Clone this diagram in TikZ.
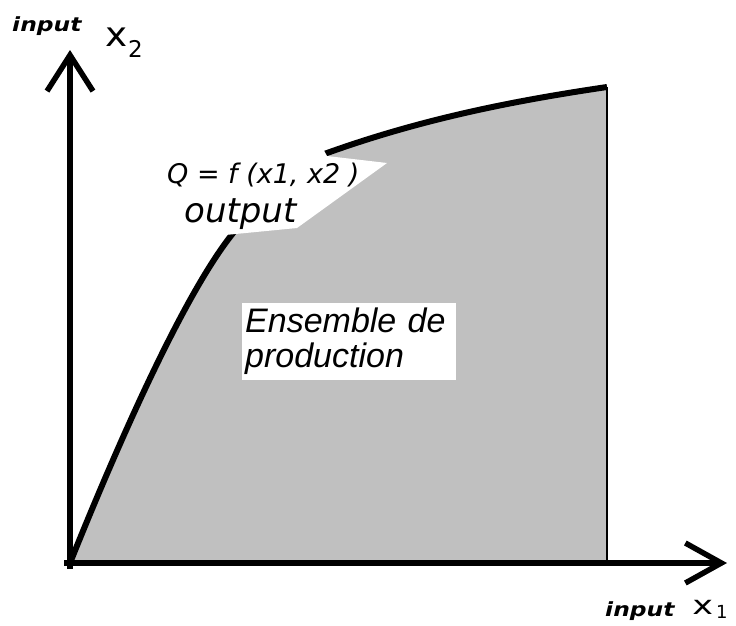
\documentclass[tikz,border=0pt]{standalone}
\usepackage{fontspec}
\setmainfont{Liberation Sans}
\newfontfamily\dejavu{DejaVu Sans}[
    BoldFont={DejaVu Sans Bold},
    ItalicFont={DejaVu Sans Oblique},
    BoldItalicFont={DejaVu Sans Bold Oblique}]
\usepackage{tikz}
\usetikzlibrary{arrows.meta}
\definecolor{prodgray}{RGB}{192,192,192}

\begin{document}
\begin{tikzpicture}[
    x=1pt,y=-1pt,
    axis/.style={line width=5.5pt,line cap=rect},
    lbl/.style={inner sep=0pt,anchor=base west},
    inlbl/.style={lbl,font=\dejavu\bfseries\itshape\fontsize{19.5}{20}\selectfont,xscale=1.2}
]
    \useasboundingbox (0,0) rectangle (736,625);
    \coordinate (O) at (70,563);
    \coordinate (xtip) at (727,563);
    \coordinate (ytip) at (70,50);
    \coordinate (bend) at (230,237);
    \coordinate (knee) at (327,153);
    \coordinate (top) at (607,87);
    \coordinate (base) at (607,563);
    % production set
    \fill[prodgray] (O) .. controls (115,451) and (180,302) .. (bend)
        .. controls (265,192) and (287,167) .. (knee)
        .. controls (422,119) and (512,101) .. (top) -- (base) -- cycle;
    \draw[line width=2pt] (top) -- (base);
    \draw[line width=6pt] (O) .. controls (115,451) and (180,302) .. (bend)
        .. controls (265,192) and (287,167) .. (knee)
        .. controls (422,119) and (512,101) .. (top);
    % white patch behind the label
    \fill[white] (215,236) -- (297,228) -- (387,163) -- (327,156) -- (322,147)
        -- (215,147) -- cycle;
    % axes
    \draw[axis,-{Straight Barb[length=36pt,width=46pt]}] (70,566) -- (ytip);
    \draw[axis,-{Straight Barb[length=36pt,width=40pt]}] (67,563) -- (xtip);
    % labels
    \node[inlbl] (inx2) at (12,31) {input};
    \node[lbl,font=\dejavu\fontsize{34}{34}\selectfont,xscale=1.1] (x2) at (105,46) {x};
    \node[lbl,font=\dejavu\fontsize{23}{23}\selectfont] (x2sub) at (128,57) {2};
    \node[inlbl] (inx1) at (605,616) {input};
    \node[lbl,font=\dejavu\fontsize{26}{26}\selectfont,xscale=1.35] (x1) at (692,614) {x};
    \node[lbl,font=\dejavu\fontsize{18}{18}\selectfont] (x1sub) at (716,618) {1};
    \node[lbl,font=\dejavu\itshape\fontsize{27}{27}\selectfont] (qf) at (167,183) {Q = f (x1, x2 )};
    \node[lbl,font=\dejavu\itshape\fontsize{34}{34}\selectfont] (out) at (184,222) {output};
    \node[fill=white,anchor=north west,text width=208pt,align=left,
        inner xsep=3pt,inner ysep=5pt,
        font=\itshape\fontsize{34}{35}\selectfont] (prodset) at (242,303)
        {Ensemble de\\production};
\end{tikzpicture}
\end{document}
